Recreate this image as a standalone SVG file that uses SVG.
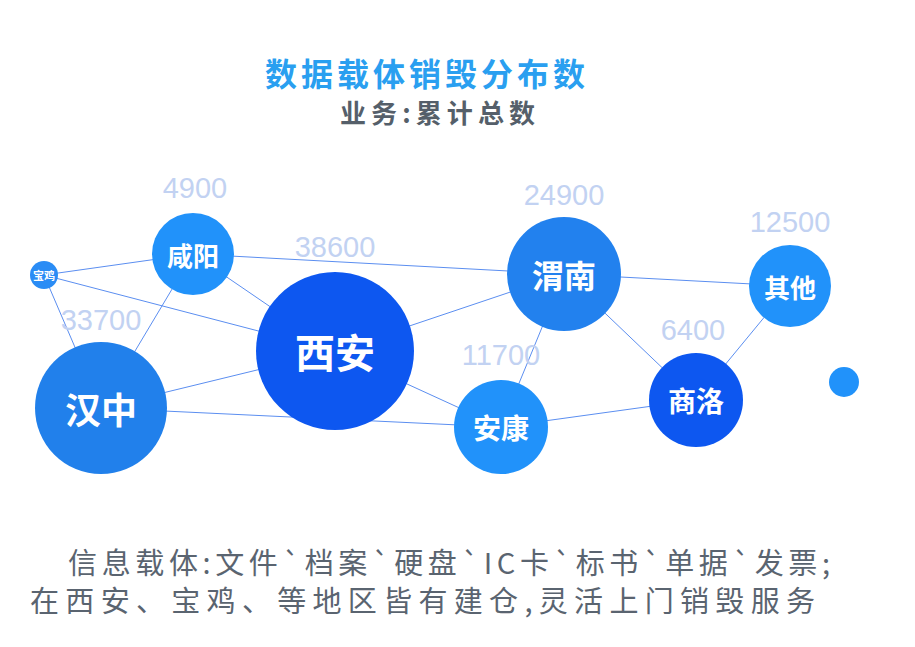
<svg xmlns="http://www.w3.org/2000/svg" width="915" height="647" viewBox="0 0 915 647">
<style>
.e{stroke:#5b8ef0;stroke-width:1;fill:none}
.n{font-family:"Noto Sans CJK SC",sans-serif;font-weight:bold;fill:#fff;text-anchor:middle;dominant-baseline:central}
.v{font-family:"Liberation Sans",sans-serif;font-size:29px;fill:#c2d2f2;text-anchor:middle}
.b{font-family:"Noto Sans CJK SC",sans-serif;font-size:29px;fill:#5a6470}
</style>
<rect width="915" height="647" fill="#fff"/>
<text x="265" y="86" font-family="Noto Sans CJK SC,sans-serif" font-size="32" font-weight="bold" fill="#2a9ff0" textLength="320" lengthAdjust="spacing">数据载体销毁分布数</text>
<text x="340" y="123" font-family="Noto Sans CJK SC,sans-serif" font-size="26" font-weight="bold" fill="#555f6a" textLength="195" lengthAdjust="spacing">业务:累计总数</text>
<g id="edges">
<line class="e" x1="44" y1="275" x2="193" y2="254"/>
<line class="e" x1="44" y1="275" x2="335" y2="351"/>
<line class="e" x1="44" y1="275" x2="101" y2="408"/>
<line class="e" x1="193" y1="254" x2="101" y2="408"/>
<line class="e" x1="193" y1="254" x2="335" y2="351"/>
<line class="e" x1="193" y1="254" x2="564" y2="274"/>
<line class="e" x1="335" y1="351" x2="101" y2="408"/>
<line class="e" x1="335" y1="351" x2="564" y2="274"/>
<line class="e" x1="335" y1="351" x2="501" y2="427"/>
<line class="e" x1="101" y1="408" x2="501" y2="427"/>
<line class="e" x1="564" y1="274" x2="501" y2="427"/>
<line class="e" x1="564" y1="274" x2="790" y2="286"/>
<line class="e" x1="564" y1="274" x2="696" y2="400"/>
<line class="e" x1="501" y1="427" x2="696" y2="400"/>
<line class="e" x1="696" y1="400" x2="790" y2="286"/>
</g>
<g id="baoji"><circle cx="44" cy="275" r="14" fill="#2a8cf5"/><text class="n" x="44" y="275" font-size="11">宝鸡</text></g>
<g id="xianyang"><circle cx="193" cy="254" r="41" fill="#2192fa"/><text class="n" x="193" y="254" font-size="26">咸阳</text><text class="v" x="195" y="198">4900</text></g>
<g id="xian"><circle cx="335" cy="351" r="79" fill="#0d57f0"/><text class="n" x="335" y="351" font-size="40">西安</text><text class="v" x="335" y="257">38600</text></g>
<g id="hanzhong"><circle cx="101" cy="408" r="66" fill="#2180eb"/><text class="n" x="101" y="408" font-size="36">汉中</text><text class="v" x="101" y="330">33700</text></g>
<g id="weinan"><circle cx="564" cy="274" r="57" fill="#2281ee"/><text class="n" x="564" y="274" font-size="32">渭南</text><text class="v" x="564" y="205">24900</text></g>
<g id="ankang"><circle cx="501" cy="427" r="47" fill="#2192fa"/><text class="n" x="501" y="427" font-size="28">安康</text><text class="v" x="501" y="365">11700</text></g>
<g id="shangluo"><circle cx="696" cy="400" r="47" fill="#0d57f0"/><text class="n" x="696" y="400" font-size="28">商洛</text><text class="v" x="693" y="340">6400</text></g>
<g id="qita"><circle cx="790" cy="286" r="41" fill="#2192fa"/><text class="n" x="790" y="286" font-size="26">其他</text><text class="v" x="790" y="232">12500</text></g>
<g id="dot"><circle cx="844" cy="382" r="15" fill="#2192fa"/></g>
<text class="b" x="68" y="574" textLength="762" lengthAdjust="spacing">信息载体:文件`档案`硬盘`IC卡`标书`单据`发票;</text>
<text class="b" x="30" y="612" textLength="785" lengthAdjust="spacing">在西安、宝鸡、等地区皆有建仓,灵活上门销毁服务</text>
</svg>
